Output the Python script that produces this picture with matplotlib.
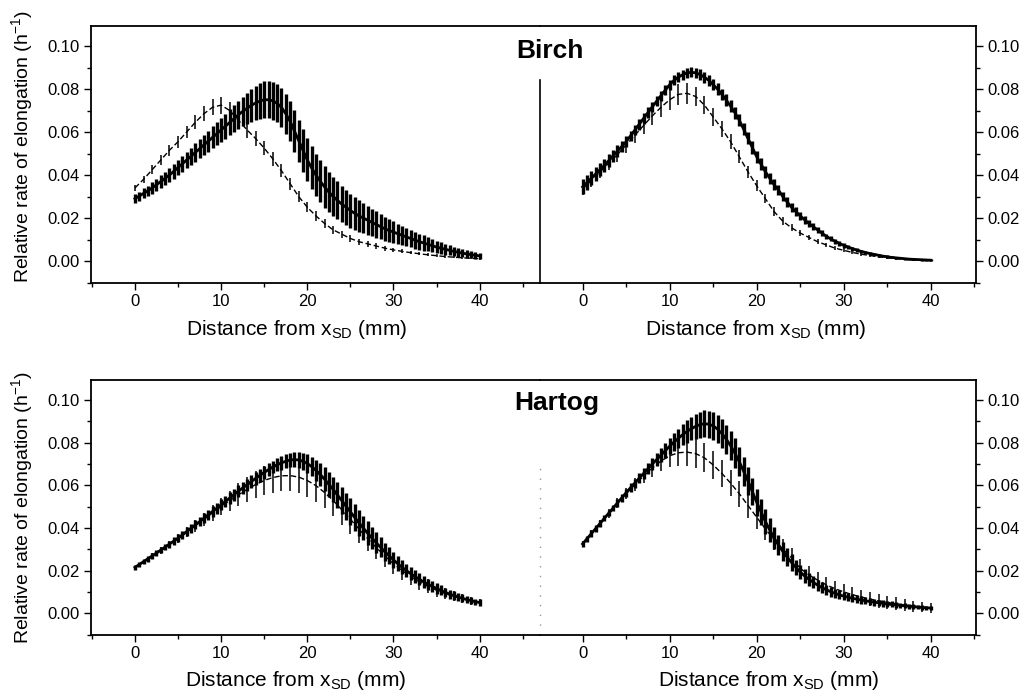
import numpy as np
import matplotlib
matplotlib.use('Agg')
import matplotlib.pyplot as plt
from matplotlib.ticker import MultipleLocator, FormatStrFormatter

plt.rcParams['font.family'] = ['Liberation Sans', 'DejaVu Sans']
plt.rcParams['mathtext.fontset'] = 'custom'
plt.rcParams['mathtext.rm'] = 'Liberation Sans'
plt.rcParams['mathtext.it'] = 'Liberation Sans:italic'
plt.rcParams['mathtext.bf'] = 'Liberation Sans:bold'

# ---------------- data (rates in units of 1e-3 h^-1) ----------------
x_solid = np.arange(0, 40.001, 0.5)   # distance from x_SD (mm), solid series
x_dash = np.arange(0, 40.001, 1.0)    # distance from x_SD (mm), dashed series

birch_left_solid = [29, 30.2, 31.5, 32.7, 34, 35.5, 37, 38.5, 40, 41.7,
                    43.5, 45.2, 47, 48.7, 50.5, 52.2, 54, 55.7, 57.5, 59.2,
                    61, 62.7, 64.5, 66.2, 68, 69.6, 71, 72.4, 73.5, 74.4,
                    75, 75, 74.5, 73.3, 71.5, 68.5, 65, 60.5, 56, 51.5,
                    47, 43.3, 40, 37.1, 34.5, 32.1, 30, 28.2, 26.5, 25,
                    23.5, 22.2, 21, 20, 19, 18, 17, 16, 15, 14.2,
                    13.5, 12.7, 12, 11.2, 10.5, 9.7, 9, 8.4, 7.8, 7.1,
                    6.5, 6, 5.5, 5, 4.5, 4.1, 3.7, 3.3, 3, 2.7,
                    2.4]
birch_left_solid_err = [2.0, 2.1, 2.3, 2.4, 2.6, 2.7, 2.9, 3.0, 3.2, 3.4,
                        3.5, 3.7, 3.9, 4.1, 4.3, 4.5, 4.7, 4.9, 5.1, 5.3,
                        5.5, 5.8, 6.0, 6.3, 6.5, 6.9, 7.2, 7.6, 8.0, 8.3,
                        8.5, 8.6, 8.7, 8.8, 9.0, 9.2, 9.4, 9.6, 9.8, 9.9,
                        10.0, 10.0, 9.9, 9.8, 9.6, 9.4, 9.1, 8.8, 8.5, 8.2,
                        7.9, 7.6, 7.3, 7.0, 6.7, 6.4, 6.1, 5.8, 5.5, 5.2,
                        5.0, 4.7, 4.5, 4.3, 4.1, 3.9, 3.7, 3.5, 3.3, 3.1,
                        2.9, 2.7, 2.5, 2.3, 2.2, 2.0, 1.9, 1.8, 1.7, 1.6,
                        1.5]
birch_left_dash = [34, 38, 42.5, 47, 51.5, 55.5, 60, 64.5, 68.5, 71.5,
                   72.5, 70, 65.5, 61, 57, 52.5, 47.5, 42, 36, 30,
                   25, 21, 17.5, 14.5, 12.5, 10.5, 9, 8, 7, 6,
                   5.2, 4.5, 3.9, 3.4, 2.9, 2.5, 2.1, 1.8, 1.5, 1.3,
                   1.1]
birch_left_dash_err = [1.5, 1.7, 2, 2.2, 2.5, 2.8, 3, 3.3, 3.6, 3.8,
                       4, 4, 4, 3.8, 3.6, 3.4, 3.2, 3, 2.8, 2.6,
                       2.4, 2.2, 2, 1.8, 1.6, 1.5, 1.4, 1.3, 1.2, 1.1,
                       1, 0.9, 0.8, 0.7, 0.7, 0.6, 0.6, 0.5, 0.5, 0.5,
                       0.5]

birch_right_solid = [34.5, 36.5, 38.5, 40.5, 42.5, 44.5, 46.7, 48.9, 51.1, 53.3,
                     55.5, 58.2, 60.9, 63.6, 66.3, 69, 71.7, 74.3, 76.9, 79.5,
                     82, 84, 85.5, 86.7, 87.5, 87.8, 87.5, 86.7, 85.5, 84,
                     82, 80, 77.5, 74.9, 72, 69, 65.5, 61.3, 57, 52.8,
                     48.5, 45, 41.5, 38.5, 35.5, 33, 30, 27.5, 25, 23,
                     21, 19.2, 17.5, 16, 14.5, 13, 11.5, 10.3, 9.2, 8.2,
                     7.3, 6.5, 5.8, 5.1, 4.5, 4, 3.5, 3.1, 2.7, 2.3,
                     2, 1.7, 1.5, 1.3, 1.1, 0.9, 0.8, 0.7, 0.6, 0.5,
                     0.4]
birch_right_solid_err = [3.5, 3.4, 3.3, 3.2, 3.1, 3.0, 2.9, 2.8, 2.7, 2.6,
                         2.5, 2.5, 2.5, 2.5, 2.5, 2.5, 2.4, 2.4, 2.4, 2.3,
                         2.3, 2.3, 2.3, 2.3, 2.3, 2.3, 2.4, 2.4, 2.5, 2.5,
                         2.6, 2.6, 2.7, 2.7, 2.8, 2.8, 2.8, 2.8, 2.8, 2.8,
                         2.8, 2.7, 2.7, 2.6, 2.5, 2.4, 2.3, 2.2, 2.1, 2.0,
                         1.9, 1.8, 1.7, 1.6, 1.5, 1.4, 1.3, 1.2, 1.1, 1.0,
                         1.0, 0.9, 0.9, 0.8, 0.8, 0.7, 0.7, 0.7, 0.6, 0.6,
                         0.6, 0.5, 0.5, 0.5, 0.5, 0.5, 0.4, 0.4, 0.4, 0.4,
                         0.4]
birch_right_dash = [33.5, 37.5, 41.5, 45.5, 49.5, 54, 58.5, 63, 67.5, 71.5,
                    75, 77.5, 78, 76.5, 72.5, 67, 61.5, 55.5, 48.5, 41.5,
                    35, 29, 23, 18.5, 15.5, 13, 11, 9, 7.5, 6,
                    5, 4, 3.2, 2.6, 2, 1.5, 1.1, 0.8, 0.5, 0.3,
                    0.2]
birch_right_dash_err = [3, 3, 3, 3.2, 3.4, 3.6, 3.8, 4, 4.3, 4.5,
                        4.7, 4.8, 4.8, 4.6, 4.3, 4, 3.7, 3.4, 3.1, 2.8,
                        2.5, 2.2, 2, 1.8, 1.6, 1.4, 1.3, 1.2, 1.1, 1,
                        0.9, 0.8, 0.7, 0.6, 0.6, 0.5, 0.5, 0.4, 0.4, 0.4,
                        0.4]

hartog_left_solid = [21.5, 22.8, 24.2, 25.5, 26.9, 28.2, 29.6, 31, 32.4, 33.8,
                     35.2, 36.7, 38.3, 39.8, 41.4, 42.9, 44.5, 46.1, 47.7, 49.2,
                     50.8, 52.4, 54, 55.6, 57.2, 58.7, 60.2, 61.7, 63.2, 64.6,
                     66, 67.3, 68.5, 69.6, 70.5, 71.2, 71.8, 72, 71.8, 71.2,
                     70.2, 68.7, 67, 65, 62.8, 60.4, 58, 55.4, 52.8, 50.1,
                     47.5, 44.9, 42.3, 39.9, 37.5, 35.2, 33, 30.9, 28.8, 26.9,
                     25, 23.2, 21.5, 20, 18.5, 17.2, 15.9, 14.7, 13.6, 12.6,
                     11.6, 10.7, 9.8, 9, 8.3, 7.6, 7, 6.4, 5.9, 5.4,
                     5]
hartog_left_solid_err = [1.2, 1.2, 1.3, 1.3, 1.4, 1.4, 1.5, 1.5, 1.6, 1.7,
                         1.8, 1.9, 2.0, 2.0, 2.1, 2.2, 2.3, 2.4, 2.5, 2.5,
                         2.6, 2.7, 2.7, 2.8, 2.8, 2.9, 2.9, 3.0, 3.0, 3.0,
                         3.0, 3.0, 3.0, 3.1, 3.2, 3.3, 3.4, 3.6, 3.8, 4.0,
                         4.3, 4.6, 4.9, 5.2, 5.5, 5.8, 6.0, 6.2, 6.3, 6.3,
                         6.3, 6.2, 6.0, 5.8, 5.5, 5.2, 4.9, 4.6, 4.3, 4.0,
                         3.7, 3.5, 3.3, 3.1, 3.0, 2.9, 2.8, 2.7, 2.6, 2.5,
                         2.4, 2.3, 2.2, 2.1, 2.0, 1.9, 1.8, 1.7, 1.6, 1.5,
                         1.5]
hartog_left_dash = [21.3, 24, 26.7, 29.4, 32.2, 35, 38, 41, 44, 47,
                    50, 52.8, 55.5, 58, 60.3, 62.2, 63.6, 64.4, 64.5, 63.8,
                    62.2, 59.8, 56.6, 52.8, 48.5, 44, 39.5, 35, 30.8, 26.8,
                    23.2, 20, 17.2, 14.7, 12.6, 10.8, 9.2, 7.9, 6.8, 5.8,
                    5]
hartog_left_dash_err = [1, 1.1, 1.3, 1.5, 1.7, 2, 2.3, 2.7, 3.1, 3.6,
                        4.1, 4.7, 5.3, 5.9, 6.4, 6.8, 7.1, 7.3, 7.4, 7.5,
                        7.5, 7.5, 7.4, 7.2, 7, 6.7, 6.4, 6, 5.6, 5.2,
                        4.8, 4.4, 4, 3.6, 3.3, 3, 2.7, 2.4, 2.1, 1.9,
                        1.7]

hartog_right_solid = [32.5, 34.9, 37.3, 39.7, 42.1, 44.5, 46.9, 49.3, 51.7, 54.1,
                      56.5, 58.8, 61, 63.3, 65.5, 67.7, 69.9, 72, 74.1, 76.2,
                      78.3, 80.2, 82, 83.7, 85.2, 86.5, 87.6, 88.4, 88.8, 88.6,
                      87.8, 86.3, 84.2, 81.6, 78.5, 75, 71, 66.5, 62, 57,
                      52, 47.5, 43, 39, 35.2, 32, 29, 26.3, 23.8, 21.5,
                      19.3, 17.5, 15.9, 14.5, 13.2, 12, 11, 10.1, 9.3, 8.6,
                      8, 7.5, 7, 6.6, 6.2, 5.8, 5.5, 5.2, 4.9, 4.6,
                      4.3, 4.1, 3.9, 3.7, 3.5, 3.3, 3.1, 2.9, 2.7, 2.6,
                      2.4]
hartog_right_solid_err = [1.5, 1.5, 1.5, 1.5, 1.5, 1.5, 1.5, 1.6, 1.7, 1.8,
                          1.9, 2.0, 2.1, 2.3, 2.4, 2.6, 2.8, 3.0, 3.2, 3.5,
                          3.8, 4.1, 4.4, 4.8, 5.2, 5.5, 5.8, 6.1, 6.3, 6.4,
                          6.5, 6.6, 6.7, 6.8, 6.9, 6.9, 6.9, 6.8, 6.7, 6.5,
                          6.3, 6.0, 5.7, 5.4, 5.1, 4.8, 4.5, 4.2, 3.9, 3.6,
                          3.4, 3.2, 3.0, 2.8, 2.6, 2.5, 2.4, 2.3, 2.2, 2.1,
                          2.0, 1.9, 1.8, 1.8, 1.7, 1.7, 1.6, 1.6, 1.5, 1.5,
                          1.4, 1.4, 1.3, 1.3, 1.2, 1.2, 1.1, 1.1, 1.0, 1.0,
                          1.0]
hartog_right_dash = [32.5, 37.3, 42, 46.8, 51.5, 56, 60.3, 64.3, 68, 71.3,
                     73.8, 75.2, 75.5, 74.8, 72.8, 69.5, 65.5, 61, 56, 50.5,
                     45, 39.5, 34.5, 30, 26, 21, 18, 15.5, 13.3, 11.5,
                     10, 8.7, 7.6, 6.6, 5.8, 5.1, 4.4, 3.8, 3.3, 2.8,
                     2.4]
hartog_right_dash_err = [1.5, 1.6, 1.8, 2, 2.3, 2.6, 3, 3.5, 4.1, 4.8,
                         5.5, 6.2, 6.6, 6.8, 6.8, 6.7, 6.5, 6.2, 6, 5.7,
                         5.4, 5.1, 4.8, 4.6, 4.4, 4.2, 4, 3.9, 3.8, 3.7,
                         3.6, 3.5, 3.4, 3.3, 3.2, 3.1, 3, 2.8, 2.6, 2.4,
                         2.2]

panel_titles = ['Birch', 'Hartog']
y_ticks = [0.00, 0.02, 0.04, 0.06, 0.08, 0.10]
x_ticks = [0, 10, 20, 30, 40]
x_label = r'Distance from x$_{\mathrm{SD}}$ (mm)'
y_label = r'Relative rate of elongation (h$^{\mathrm{-1}}$)'

SCALE = 1e-3

# ---------------- figure ----------------
W, H = 1034, 695
fig = plt.figure(figsize=(W / 100, H / 100), dpi=100)


def fx(px):
    return px / W


def fy(py):
    return 1 - py / H


rows = [
    dict(top=26, bottom=283, sep_style='solid', sep_frac=0.79,
         left=(birch_left_solid, birch_left_solid_err, birch_left_dash, birch_left_dash_err),
         right=(birch_right_solid, birch_right_solid_err, birch_right_dash, birch_right_dash_err),
         title=panel_titles[0], title_xy=(550, 51), lab_left=297, lab_right=756,
         ylab_y=147),
    dict(top=380, bottom=635, sep_style='dotted', sep_frac=0.675,
         left=(hartog_left_solid, hartog_left_solid_err, hartog_left_dash, hartog_left_dash_err),
         right=(hartog_right_solid, hartog_right_solid_err, hartog_right_dash, hartog_right_dash_err),
         title=panel_titles[1], title_xy=(557, 403), lab_left=296, lab_right=769,
         ylab_y=508),
]

XL, XM, XR = 91, 540, 976


def draw_series(ax, data):
    ms, es, md, ed = data
    ax.errorbar(x_solid, np.array(ms) * SCALE, yerr=np.array(es) * SCALE,
                fmt='-', color='k', lw=2.0, elinewidth=2.4, capsize=0, zorder=3)
    eb = ax.errorbar(x_dash, np.array(md) * SCALE, yerr=np.array(ed) * SCALE,
                     fmt='-', color='k', lw=1.0, elinewidth=1.1, capsize=0, zorder=4)
    eb[0].set_linestyle((0, (4, 2)))


def style_common(ax):
    ax.set_ylim(-0.0102, 0.1093)
    ax.yaxis.set_major_locator(plt.FixedLocator(y_ticks))
    ax.yaxis.set_minor_locator(MultipleLocator(0.01))
    ax.yaxis.set_major_formatter(FormatStrFormatter('%.2f'))
    ax.xaxis.set_major_locator(plt.FixedLocator(x_ticks))
    ax.xaxis.set_minor_locator(MultipleLocator(5))
    ax.tick_params(which='major', direction='out', length=5, width=1.0,
                   labelsize=12, pad=3)
    ax.tick_params(which='minor', direction='out', length=3, width=1.0)
    ax.spines['top'].set_linewidth(1.3)
    ax.spines['bottom'].set_linewidth(1.3)


for r in rows:
    b = fy(r['bottom'])
    h = (r['bottom'] - r['top']) / H
    axl = fig.add_axes([fx(XL), b, fx(XM) - fx(XL), h])
    axr = fig.add_axes([fx(XM), b, fx(XR) - fx(XM), h])

    draw_series(axl, r['left'])
    draw_series(axr, r['right'])

    for ax in (axl, axr):
        style_common(ax)

    axl.set_xlim(-5.1, 47.0)
    axr.set_xlim(-4.9, 45.2)

    axl.spines['right'].set_visible(False)
    axl.spines['left'].set_linewidth(1.3)
    axl.tick_params(axis='y', which='both', left=True, right=False,
                    labelleft=True, labelright=False)

    axr.spines['left'].set_visible(False)
    axr.spines['right'].set_linewidth(1.3)
    axr.tick_params(axis='y', which='both', left=False, right=True,
                    labelleft=False, labelright=True)

    # separator between the two panels
    if r['sep_style'] == 'solid':
        axr.plot([0, 0], [0, r['sep_frac']], transform=axr.transAxes,
                 color='k', lw=1.2, clip_on=False)
    else:
        axr.plot([0, 0], [0, r['sep_frac']], transform=axr.transAxes,
                 color='0.6', lw=1.0, ls=(0, (1, 6)), clip_on=False)

    axl.set_xlabel(x_label, fontsize=15)
    axr.set_xlabel(x_label, fontsize=15)
    axl.xaxis.set_label_coords((r['lab_left'] - XL) / (XM - XL), -0.135)
    axr.xaxis.set_label_coords((r['lab_right'] - XM) / (XR - XM), -0.135)
    axl.xaxis.label.set_va('top')
    axr.xaxis.label.set_va('top')

    # y label placed in figure pixels (centre x ~ 22 px)
    fig.text(fx(22), fy(r['ylab_y']), y_label, fontsize=14, rotation=90,
             ha='center', va='center')

    fig.text(fx(r['title_xy'][0]), fy(r['title_xy'][1]), r['title'],
             fontsize=19, fontweight='bold', ha='center', va='center')

fig.savefig('out.png', dpi=100)
